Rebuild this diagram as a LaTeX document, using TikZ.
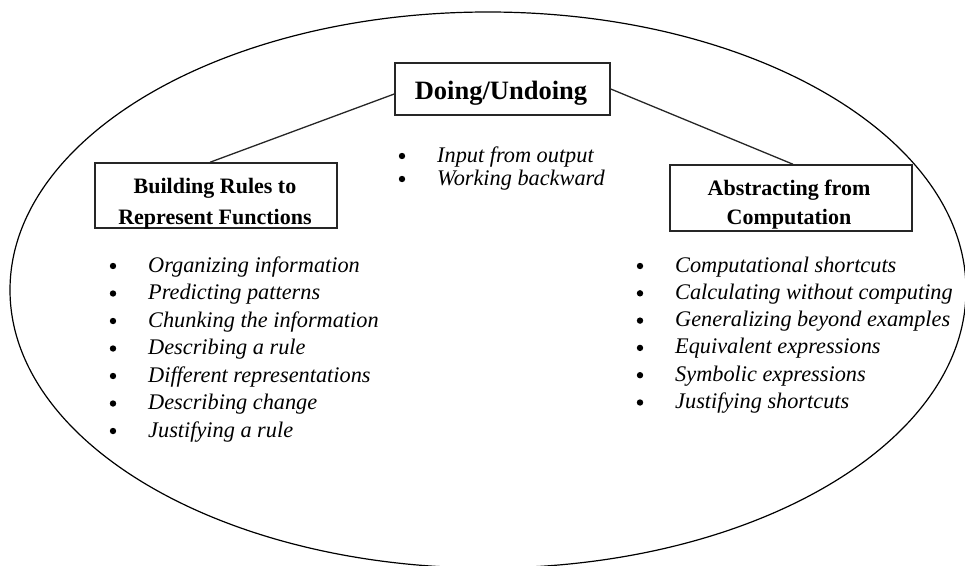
\documentclass[tikz,border=0pt]{standalone}
\usepackage{fontspec}
\setmainfont{Liberation Serif}
\usetikzlibrary{shapes.geometric}

\begin{document}
\begin{tikzpicture}[x=1pt,y=-1pt,
  frame/.style={draw, ellipse, line width=1.2pt, inner sep=0pt},
  topic/.style={draw=black!85, line width=1.5pt, fill=white, inner sep=0pt},
  heading/.style={font=\fontsize{26.5}{30}\selectfont\bfseries, inner sep=0pt, anchor=base},
  subhead/.style={font=\fontsize{22}{26}\selectfont\bfseries, inner sep=0pt, anchor=base},
  item/.style={font=\fontsize{22.3}{26}\selectfont\itshape, inner sep=0pt, anchor=base west},
  link/.style={line width=1.3pt, black!85}
]
\useasboundingbox (0,0) rectangle (965,565);

% outer ellipse
\node[frame, minimum width=956pt, minimum height=556pt] (frame) at (488,290) {};

% the three topic boxes
\node[topic, minimum width=215pt, minimum height=52pt] (doing) at (502.5,89) {};
\node[heading] (doingtxt) at (501,99) {Doing/Undoing};

\node[topic, minimum width=242pt, minimum height=65pt] (build) at (216,195.5) {};
\begin{scope}
  \clip (build.south west) rectangle (build.north east);
  \node[subhead] (build1) at (215,193) {Building Rules to};
  \node[subhead] (build2) at (215,224.5) {Represent Functions};
\end{scope}

\node[topic, minimum width=242pt, minimum height=66pt] (abs) at (791,198) {};
\begin{scope}
  \clip (abs.south west) rectangle (abs.north east);
  \node[subhead] (abs1) at (789,195) {Abstracting from};
  \node[subhead] (abs2) at (789,224) {Computation};
\end{scope}

% connectors
\draw[link] ([yshift=-5pt]doing.west) -- ([xshift=-6pt]build.north);
\draw[link] (doing.east) -- ([xshift=2pt]abs.north);

% centre list
\foreach \t [count=\i] in {Input from output, Working backward} {
  \pgfmathsetmacro{\yy}{162+23*(\i-1)}
  \fill (402,\yy-6) circle (3.2pt);
  \node[item] (mid\i) at (437,\yy) {\t};
}

% left list
\foreach \t [count=\i] in {Organizing information, Predicting patterns,
    Chunking the information, Describing a rule, Different representations,
    Describing change, Justifying a rule} {
  \pgfmathsetmacro{\yy}{272+27.5*(\i-1)}
  \fill (113,\yy-6) circle (3.2pt);
  \node[item] (left\i) at (148,\yy) {\t};
}

% right list
\foreach \t [count=\i] in {Computational shortcuts, Calculating without computing,
    Generalizing beyond examples, Equivalent expressions, Symbolic expressions,
    Justifying shortcuts} {
  \pgfmathsetmacro{\yy}{272+27.3*(\i-1)}
  \fill (640,\yy-6) circle (3.2pt);
  \node[item] (right\i) at (675,\yy) {\t};
}
\end{tikzpicture}
\end{document}
